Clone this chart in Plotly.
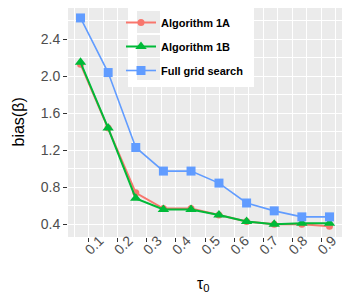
import plotly.graph_objects as go

tau = [0.072, 0.167, 0.262, 0.357, 0.452, 0.548, 0.643, 0.738, 0.833, 0.928]
alg_1a = [2.13, 1.44, 0.74, 0.57, 0.57, 0.50, 0.43, 0.40, 0.40, 0.38]
alg_1b = [2.15, 1.44, 0.68, 0.56, 0.56, 0.50, 0.43, 0.40, 0.41, 0.41]
full_grid = [2.63, 2.04, 1.23, 0.975, 0.975, 0.845, 0.63, 0.545, 0.48, 0.48]
x_ticks = [0.1, 0.2, 0.3, 0.4, 0.5, 0.6, 0.7, 0.8, 0.9]
y_ticks = [0.4, 0.8, 1.2, 1.6, 2.0, 2.4]

fig = go.Figure()
fig.add_trace(go.Scatter(x=tau, y=alg_1a, mode="lines+markers", name="Algorithm 1A",
                         line=dict(color="#F8766D", width=2),
                         marker=dict(symbol="circle", size=7, color="#F8766D")))
fig.add_trace(go.Scatter(x=tau, y=alg_1b, mode="lines+markers", name="Algorithm 1B",
                         line=dict(color="#00BA38", width=2),
                         marker=dict(symbol="triangle-up", size=10, color="#00BA38")))
fig.add_trace(go.Scatter(x=tau, y=full_grid, mode="lines+markers", name="Full grid search",
                         line=dict(color="#619CFF", width=1.6),
                         marker=dict(symbol="square", size=9, color="#619CFF")))
for i, tr in enumerate(fig.data):
    tr.legendgroup = f"g{i}"

# plot area in pixels: x 68..342, y 8..237
def px_x(p):
    return (p - 68) / 274.0

def px_y(p):
    return (237 - p) / 229.0

shapes = [dict(type="rect", xref="paper", yref="paper", layer="above",
               x0=px_x(128), x1=px_x(254), y0=px_y(87), y1=px_y(7),
               fillcolor="white", line=dict(width=0))]
for cy in (22, 46, 69):
    shapes.append(dict(type="rect", xref="paper", yref="paper", layer="above",
                       x0=px_x(137), x1=px_x(160), y0=px_y(cy + 11), y1=px_y(cy - 11),
                       fillcolor="#EBEBEB", line=dict(width=0)))

axis_font = dict(family="Liberation Sans, Arial, sans-serif", size=14, color="#4D4D4D")
fig.update_layout(
    width=350, height=300,
    margin=dict(l=68, r=8, t=8, b=63),
    paper_bgcolor="white", plot_bgcolor="#EBEBEB",
    font=dict(family="Liberation Sans, Arial, sans-serif"),
    showlegend=True,
    shapes=shapes,
    legend=dict(x=px_x(121), y=px_y(8), xanchor="left", yanchor="top",
                bgcolor="rgba(0,0,0,0)", borderwidth=0,
                font=dict(family="Liberation Sans, Arial, sans-serif", size=11, color="black", weight="bold"),
                tracegroupgap=5, traceorder="grouped"),
    xaxis=dict(range=[0.029, 0.971], tickvals=x_ticks, ticktext=[str(v) for v in x_ticks],
               tickangle=-45, tickfont=axis_font, ticks="outside", ticklen=4,
               tickcolor="#333333", showgrid=True, gridcolor="white", gridwidth=1,
               zeroline=False, showline=False, ticklabelshift=11, ticklabelstandoff=-15,
               automargin=False,
               minor=dict(tickvals=[0.05, 0.15, 0.25, 0.35, 0.45, 0.55, 0.65, 0.75, 0.85, 0.95],
                          showgrid=True, gridcolor="white", gridwidth=0.5, ticks="")),
    yaxis=dict(range=[0.2625, 2.7375], tickvals=y_ticks, ticktext=[f"{v:.1f}" for v in y_ticks],
               tickfont=axis_font, ticks="outside", ticklen=4, tickcolor="#333333",
               showgrid=True, gridcolor="white", gridwidth=1, zeroline=False, showline=False,
               automargin=False,
               minor=dict(tickvals=[0.6, 1.0, 1.4, 1.8, 2.2, 2.6],
                          showgrid=True, gridcolor="white", gridwidth=0.5, ticks="")),
    annotations=[dict(text="τ<sub>0</sub>", xref="paper", yref="paper",
                      x=px_x(203), y=px_y(284), xanchor="center", yanchor="middle",
                      showarrow=False, font=dict(size=16, color="black")),
                 dict(text="bias(β)", xref="paper", yref="paper", textangle=-90,
                      x=px_x(18), y=px_y(122.5), xanchor="center", yanchor="middle",
                      showarrow=False, font=dict(size=16, color="black"))],
)

fig.write_html("out.html", config={"displayModeBar": False},
               post_script="document.body.style.margin='0';document.body.style.padding='0';")
